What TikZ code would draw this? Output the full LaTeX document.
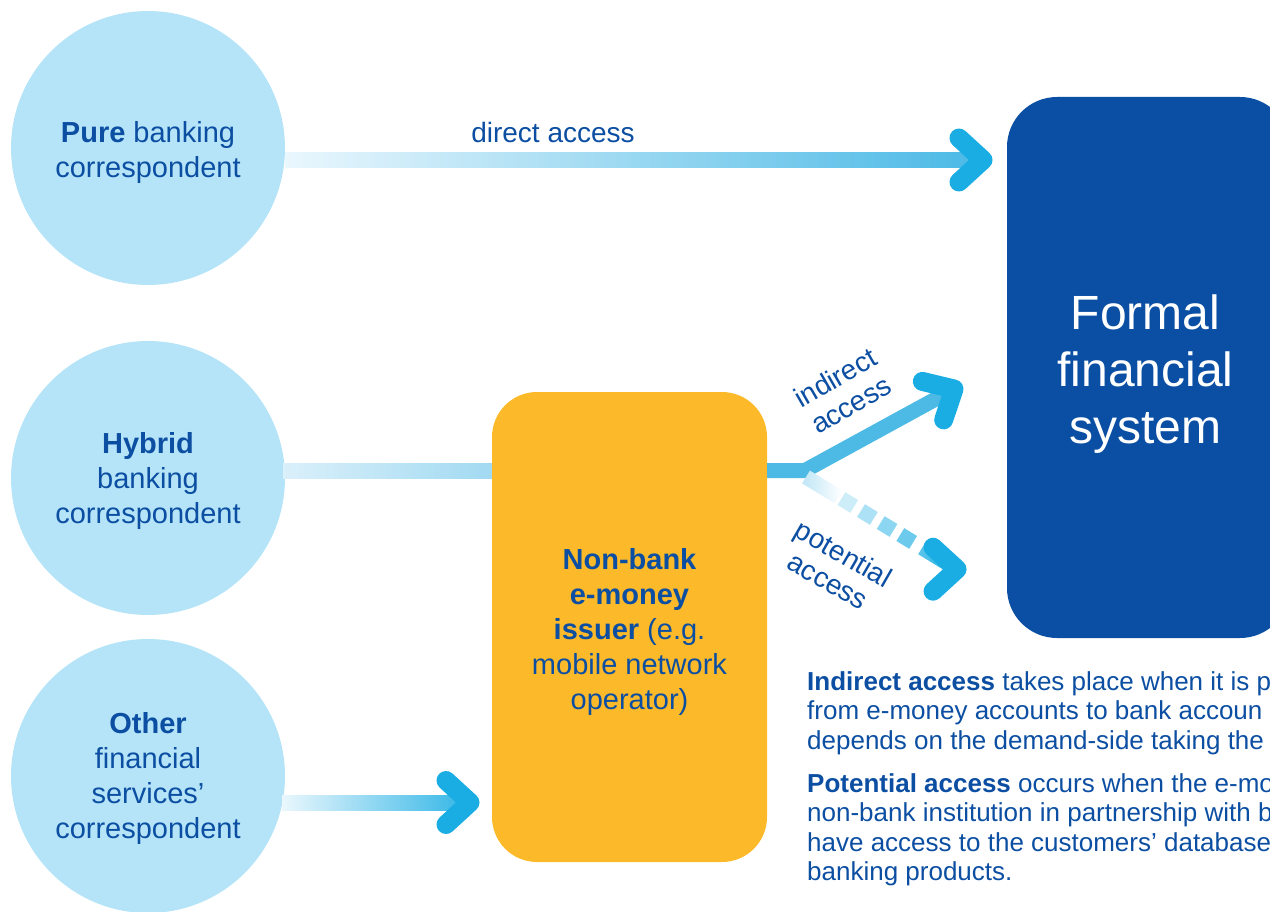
\documentclass[tikz,border=0pt]{standalone}
\usepackage{fontspec}
\setmainfont{Liberation Sans}
\usetikzlibrary{calc}
\definecolor{tblue}{HTML}{0B4EA2}
\definecolor{circfill}{HTML}{B5E4F8}
\definecolor{ffsblue}{HTML}{0A4FA3}
\definecolor{yel}{HTML}{FCBA2B}
\definecolor{cyanA}{HTML}{1AADE3}
\definecolor{barmid}{HTML}{4DBAE6}
\definecolor{barpale}{HTML}{EAF7FD}
\definecolor{hpale}{HTML}{DAF0FA}
\definecolor{hmid}{HTML}{A2DAF2}
\definecolor{pjoint}{HTML}{BFE6F6}
\begin{document}
\begin{tikzpicture}[x=1pt,y=-1pt,
  circ/.style={circle, fill=circfill, minimum size=274pt, inner sep=0pt},
  ctext/.style={align=center, inner sep=0pt, text=tblue, font=\fontsize{29}{35}\selectfont},
  chevline/.style={draw=cyanA, line width=19pt, line cap=round, line join=round},
  chev/.pic={\draw[chevline] (-24,-22) -- (0,0) -- (-24,22);},
  lbl/.style={text=tblue, font=\fontsize{28}{31}\selectfont, align=center, inner sep=0pt},
  notetxt/.style={text=tblue, font=\fontsize{26}{29.5}\selectfont, anchor=base west, inner sep=0pt},
]
\useasboundingbox (0,0) rectangle (1270,912);
\clip (0,0) rectangle (1270,912);

% nodes
\node[circ] (c1) at (148,148) {};
\node[ctext] (c1t) at (148,153) {\textbf{Pure} banking\\correspondent};
\node[circ] (c2) at (148,478) {};
\node[ctext] (c2t) at (148,481) {\textbf{Hybrid}\\banking\\correspondent};
\node[circ] (c3) at (148,776) {};
\node[ctext] (c3t) at (148,778.5) {\textbf{Other}\\financial\\services’\\correspondent};

\node[fill=yel, rounded corners=45pt, minimum width=275pt, minimum height=470pt, inner sep=0pt] (emi) at (629.5,627) {};
\node[ctext] (emit) at (629.5,631.5)
  {\textbf{Non-bank}\\\textbf{e-money}\\\textbf{issuer} (e.g.\\mobile network\\operator)};

\node[fill=ffsblue, rounded corners=50pt, minimum width=283pt, minimum height=541pt, inner sep=0pt] (ffs) at (1148.5,367.5) {};
\node[align=center, inner sep=0pt, text=white, font=\fontsize{48}{57}\selectfont] (ffst) at (1145.5,374.5)
  {Formal\\financial\\system};

% direct access
\coordinate (dA) at (285,160);
\coordinate (dT) at (983,160);
\shade[left color=barpale, right color=barmid] ($(dA)+(0,-7.5)$) rectangle ($(dT)+(-14,7.5)$);
\pic at (dT) {chev};

% hybrid bar
\coordinate (hA) at (283,470.5);
\coordinate (hB) at (emi.west |- hA);
\shade[left color=hpale, right color=hmid] ($(hA)+(0,-7.5)$) rectangle ($(hB)+(0,7.5)$);

% indirect access
\coordinate (iA) at (emi.east |- hA);
\coordinate (J) at (805,470.5);
\coordinate (iT) at (954,389);
\draw[barmid, line width=15pt, line join=miter] (iA) -- (J) -- ($(J)!0.93!(iT)$);
\pic[rotate=29] at (iT) {chev};

% potential access
\coordinate (P) at (806,477);
\begin{scope}[shift={(P)}, rotate=-31.4]
  \shade[left color=pjoint, right color=white] (0,-7.5) rectangle (38,7.5);
  \foreach \s/\c in {49/22,72/36,95/50,118/64}
    \fill[cyanA!\c!white] ({\s-7.5},-7.5) rectangle ({\s+7.5},7.5);
  \shade[left color=cyanA!70!white, right color=cyanA] (136,-7.5) rectangle (166,7.5);
  \pic at (177,0) {chev};
\end{scope}

% other bar
\coordinate (oA) at (282,802.5);
\coordinate (oT) at (470,802.5);
\shade[left color=barpale, right color=cyanA!85!white] ($(oA)+(0,-7.5)$) rectangle ($(oT)+(-12,7.5)$);
\pic at (oT) {chev};

% labels
\node[lbl] (lda) at (553,132) {direct access};
\node[lbl, rotate=30] (lia) at (843,391) {indirect\\access};
\node[lbl, rotate=-30] (lpa) at (836,567) {potential\\access};

% notes
\node[notetxt] (n1) at (807,690) {\textbf{Indirect access} takes place when it is p};
\node[notetxt] (n2) at (807,719.5) {from e-money accounts to bank accoun};
\node[notetxt] (n3) at (807,749) {depends on the demand-side taking the};
\node[notetxt] (n4) at (807,792) {\textbf{Potential access} occurs when the e-mo};
\node[notetxt] (n5) at (807,821.5) {non-bank institution in partnership with b};
\node[notetxt] (n6) at (807,851) {have access to the customers’ database};
\node[notetxt] (n7) at (807,880.5) {banking products.};
\end{tikzpicture}
\end{document}
